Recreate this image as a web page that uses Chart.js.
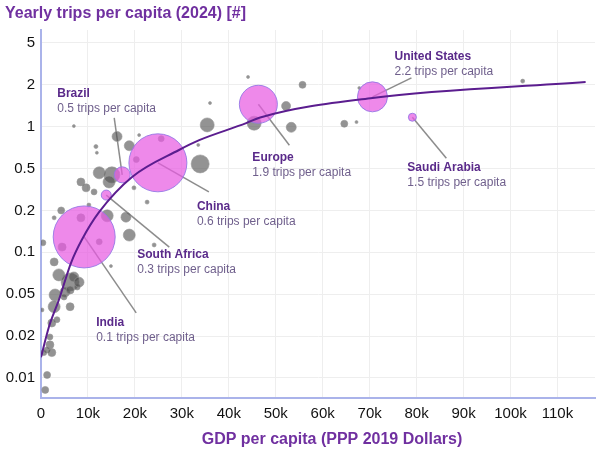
<!DOCTYPE html>
<html>
<head>
<meta charset="utf-8">
<title>Yearly trips per capita</title>
<script src="https://cdn.jsdelivr.net/npm/chart.js@4.4.1/dist/chart.umd.min.js"></script>
<style>
    html, body { margin: 0; padding: 0; background: #fff; overflow: hidden; }
    #wrap { width: 606px; height: 456px; }
</style>
</head>
<body>
<div id="wrap"><canvas id="tripsChart"></canvas></div>
<script>
// Y ticks (trips per capita) - axis puts them evenly spaced
const yTicks = [0.01, 0.02, 0.05, 0.1, 0.2, 0.5, 1, 2, 5];

// Highlighted countries / regions (GDP in k$, trips per capita, bubble size)
const hlNames = ['United States', 'Europe', 'Saudi Arabia', 'China', 'Brazil', 'South Africa', 'India'];
const hlNotes = ['2.2 trips per capita', '1.9 trips per capita', '1.5 trips per capita', '0.6 trips per capita',
                 '0.5 trips per capita', '0.3 trips per capita', '0.1 trips per capita'];
const hlGdp = [70.6, 46.3, 79.1, 24.9, 17.3, 13.9, 9.2];
const hlTrips = [1.64, 1.45, 1.17, 0.55, 0.436, 0.28, 0.129];
const hlSize = [15, 19, 4, 29, 8, 5, 31];

// Other countries
const otherGdp = [55.7, 44.1, 36.0, 52.2, 53.3, 45.4, 35.4, 33.5, 33.9, 25.6, 67.8, 102.6, 64.6, 67.2,
                  16.2, 18.8, 7.0, 11.7, 11.9, 20.9, 12.4, 15.1, 14.5, 20.3, 8.5, 9.6, 11.3, 19.8, 22.6,
                  4.3, 2.8, 14.1, 18.1, 18.8, 24.1, 10.2, 8.5, 14.9, 2.8, 3.8, 6.2, 7.0, 5.1, 6.2, 3.0,
                  2.8, 6.2, 3.4, 2.3, 1.9, 1.9, 1.3, 2.3, 0.6, 1.3, 0.9, 0.2, 4.9, 7.7, 8.1, 12.4, 4.5, 0.4];
const otherTrips = [2.0, 2.38, 1.48, 1.41, 0.99, 1.06, 1.03, 0.74, 0.54, 0.82, 1.90, 2.17, 1.05, 1.08,
                    0.85, 0.73, 1.01, 0.72, 0.65, 0.87, 0.456, 0.436, 0.373, 0.58, 0.373, 0.328, 0.30, 0.328, 0.24,
                    0.20, 0.177, 0.183, 0.179, 0.133, 0.113, 0.225, 0.177, 0.0796, 0.0853, 0.0688, 0.0612, 0.0665, 0.0518, 0.0536, 0.0491,
                    0.038, 0.038, 0.0286, 0.0266, 0.0197, 0.0173, 0.0159, 0.0152, 0.0152, 0.0105, 0.0082, 0.0354, 0.047, 0.0563, 0.061, 0.119, 0.109, 0.117];
const otherSize = [3.5, 1.5, 1.5, 4.5, 5, 7, 7, 1.5, 9, 3, 1.5, 2, 3.5, 1.5,
                   5, 5, 1.5, 2, 1.5, 1.5, 6, 8, 6, 3, 4, 4, 3, 2, 2,
                   3.5, 2, 6, 5, 6, 2, 2, 4, 1.5, 4, 6, 9, 5, 5, 4, 6,
                   6, 4, 3, 4, 3, 4, 3, 4, 3, 3.5, 3.5, 2, 3, 3, 5, 3, 4, 3];

// Trend curve
const trendGdp = [0, 1.7, 3.8, 6.4, 8.7, 12.4, 19.4, 29.4, 33.7, 43.7, 46.5, 70.6, 116];
const trendTrips = [0.0141, 0.0245, 0.044, 0.084, 0.123, 0.195, 0.416, 0.68, 0.80, 1.06, 1.16, 1.61, 2.13];

const FONT = 'Arial, "Liberation Sans", sans-serif';
const PURPLE = '#7030a0';

// where label text and leader lines sit, relative to each highlighted bubble (px)
const callouts = {
    'United States': { line: [39, -19], text: [22, -40] },
    'Europe':        { line: [31, 41],  text: [-6, 53] },
    'Saudi Arabia':  { line: [34, 41],  text: [-5, 50] },
    'China':         { line: [51, 29],  text: [39, 44] },
    'Brazil':        { line: [-8, -57], text: [-65, -81] },
    'South Africa':  { line: [63, 52],  text: [31, 60] },
    'India':         { line: [52, 76],  text: [12, 86] }
};

// position along the evenly spaced 1-2-5 tick ladder
function tickIndex(v) {
    let i = 0;
    while (i < yTicks.length - 2 && v > yTicks[i + 1]) i++;
    return i + Math.log(v / yTicks[i]) / Math.log(yTicks[i + 1] / yTicks[i]);
}

class TickStepScale extends Chart.LinearScale {
    getPixelForValue(value) {
        if (value === null || value === undefined || isNaN(value)) return NaN;
        return super.getPixelForValue(tickIndex(value));
    }
}
TickStepScale.id = 'tickstep';
TickStepScale.defaults = {};
Chart.register(TickStepScale);

const calloutPlugin = {
    id: 'callouts',
    beforeDatasetsDraw(chart) {
        const { ctx, scales } = chart;
        ctx.save();
        ctx.strokeStyle = 'rgba(120,120,120,0.85)';
        ctx.lineWidth = 1.5;
        hlNames.forEach((name, i) => {
            const c = callouts[name];
            const x = scales.x.getPixelForValue(hlGdp[i]);
            const y = scales.y.getPixelForValue(hlTrips[i]);
            ctx.beginPath();
            ctx.moveTo(x, y);
            ctx.lineTo(x + c.line[0], y + c.line[1]);
            ctx.stroke();
        });
        ctx.restore();
    },
    afterDatasetsDraw(chart) {
        const { ctx, scales } = chart;
        ctx.save();
        ctx.textAlign = 'left';
        ctx.textBaseline = 'middle';
        hlNames.forEach((name, i) => {
            const c = callouts[name];
            const x = scales.x.getPixelForValue(hlGdp[i]) + c.text[0];
            const y = scales.y.getPixelForValue(hlTrips[i]) + c.text[1];
            ctx.font = 'bold 12px ' + FONT;
            ctx.fillStyle = '#5a2a8a';
            ctx.fillText(name, x, y);
            ctx.font = '12px ' + FONT;
            ctx.fillStyle = '#6f5f8c';
            ctx.fillText(hlNotes[i], x, y + 15);
        });
        ctx.restore();
    },
    afterDraw(chart) {
        const ctx = chart.ctx;
        ctx.save();
        ctx.font = 'bold 16px ' + FONT;
        ctx.fillStyle = PURPLE;
        ctx.textAlign = 'center';
        ctx.textBaseline = 'middle';
        ctx.fillText('GDP per capita (PPP 2019 Dollars)', 332, 440);
        ctx.restore();
    }
};

const tickFont = { family: FONT, size: 15 };

new Chart(document.getElementById('tripsChart'), {
    type: 'bubble',
    data: {
        datasets: [
            {
                type: 'line',
                label: 'Trend',
                data: trendGdp.map((g, i) => ({ x: g, y: trendTrips[i] })),
                borderColor: '#5b1d8f',
                borderWidth: 2,
                pointRadius: 0,
                cubicInterpolationMode: 'monotone',
                order: 0
            },
            {
                label: 'Highlighted',
                data: hlGdp.map((g, i) => ({ x: g, y: hlTrips[i], r: hlSize[i] })),
                backgroundColor: 'rgba(232, 92, 226, 0.72)',
                borderColor: 'rgba(150, 120, 230, 0.9)',
                borderWidth: 1,
                order: 1
            },
            {
                label: 'Other',
                data: otherGdp.map((g, i) => ({ x: g, y: otherTrips[i], r: otherSize[i] })),
                backgroundColor: 'rgba(80, 80, 80, 0.62)',
                borderColor: 'rgba(150, 150, 150, 0.6)',
                borderWidth: 1,
                order: 2
            }
        ]
    },
    options: {
        animation: false,
        responsive: true,
        maintainAspectRatio: false,
        // big bubbles would otherwise push the plot area in
        layout: { autoPadding: false, padding: { left: 5, right: 11, top: 0, bottom: 0 } },
        plugins: {
            legend: { display: false },
            tooltip: { enabled: false },
            title: {
                display: true,
                text: 'Yearly trips per capita (2024) [#]',
                align: 'start',
                color: PURPLE,
                font: { family: FONT, size: 16, weight: 'bold' },
                padding: { top: 4, bottom: 6.8 }
            }
        },
        scales: {
            x: {
                type: 'linear',
                min: 0,
                max: 118,
                ticks: {
                    stepSize: 10,
                    includeBounds: false,
                    autoSkip: false,
                    maxRotation: 0,
                    color: '#111',
                    font: tickFont,
                    padding: 7,
                    callback: v => v === 0 ? '0' : v + 'k'
                },
                grid: { color: '#eeeeee', drawTicks: false },
                border: { color: '#aab3ea', width: 2 },
                afterFit(scale) {
                    scale.height = 58;
                    scale.paddingLeft = 0;
                    scale.paddingRight = 0;
                }
            },
            y: {
                type: 'tickstep',
                min: -0.48,
                max: 8.31,
                afterBuildTicks(scale) {
                    scale.ticks = yTicks.map(v => ({ value: v }));
                },
                ticks: {
                    color: '#111',
                    font: tickFont,
                    padding: 6,
                    callback: v => String(v)
                },
                grid: { color: '#eeeeee', drawTicks: false },
                border: { color: '#aab3ea', width: 2 },
                afterFit(scale) {
                    scale.width = 36;
                    scale.paddingTop = 0;
                    scale.paddingBottom = 0;
                }
            }
        }
    },
    plugins: [calloutPlugin]
});
</script>
</body>
</html>
